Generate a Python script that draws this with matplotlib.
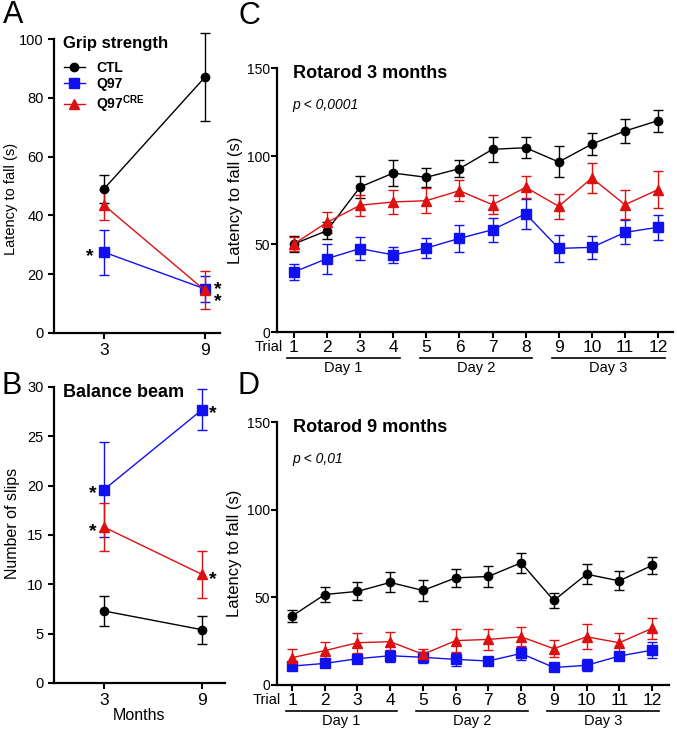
import matplotlib
matplotlib.use('Agg')
import matplotlib.pyplot as plt
import matplotlib.transforms as mtransforms

plt.rcParams['font.family'] = ['Liberation Sans', 'DejaVu Sans']
plt.rcParams['mathtext.fontset'] = 'custom'
plt.rcParams['mathtext.rm'] = 'Liberation Sans'
plt.rcParams['mathtext.bf'] = 'Liberation Sans:bold'

# ---------------- data ----------------
groups = ['CTL', 'Q97', 'Q97$^{\\bf CRE}$']
colors = ['#000000', '#1010f0', '#dd1010']
markers = ['o', 's', '^']

months = [3, 9]
grip_ctl = [49, 87]
grip_ctl_err = [4.8, 15]
grip_q97 = [27.5, 15]
grip_q97_err = [7.7, 4.3]
grip_cre = [43.5, 14.5]
grip_cre_err = [5, 6.5]

beam_ctl = [7.3, 5.4]
beam_ctl_err = [1.55, 1.4]
beam_q97 = [19.6, 27.7]
beam_q97_err = [4.8, 2.1]
beam_cre = [15.8, 11.0]
beam_cre_err = [2.4, 2.4]

trials = list(range(1, 13))
days = ['Day 1', 'Day 2', 'Day 3']
day_trials = [(1, 4), (5, 8), (9, 12)]

rr3_ctl = [50, 57.6, 82.4, 90.3, 87.9, 92.8, 103.8, 104.7, 96.6, 106.8, 114.2, 120.1]
rr3_ctl_err = [4.4, 5, 6.5, 7.3, 5.3, 4.8, 7, 6, 8.8, 6.5, 6.6, 6.2]
rr3_q97 = [34.1, 41.7, 47.4, 43.8, 47.7, 53.2, 58.1, 67.2, 47.5, 48.1, 56.6, 59.5]
rr3_q97_err = [4.5, 8.5, 6.6, 4.5, 5.9, 7.8, 6.8, 8.5, 7.6, 6.6, 6.8, 7.2]
rr3_cre = [50, 62.3, 72, 73.9, 74.6, 80.3, 72.3, 82.2, 71.4, 87.5, 72.3, 80.9]
rr3_cre_err = [3.9, 6, 6, 6.6, 7, 5.8, 5.3, 6.2, 7, 8.3, 8.2, 10.4]

rr9_ctl = [39.3, 51.6, 53.4, 58.5, 53.9, 61.1, 61.9, 69.7, 48.2, 63.2, 59.4, 68.2]
rr9_ctl_err = [3.4, 4.4, 5.1, 5.7, 5.9, 5, 5.9, 5.7, 4.4, 5.7, 5.5, 4.9]
rr9_q97 = [10.8, 12.3, 15, 16.7, 15.8, 14.6, 13.7, 18, 10, 11.2, 16.5, 19.9]
rr9_q97_err = [2.5, 2, 2.5, 3.5, 3, 3.5, 2, 3.5, 1.5, 3.5, 2.5, 4.5]
rr9_cre = [15.6, 19.6, 24.1, 24.7, 17.5, 25.3, 26, 27.5, 20.7, 27.5, 24.1, 32.3]
rr9_cre_err = [4.9, 5.1, 5.7, 5.3, 3, 6.4, 6.1, 5.3, 4.9, 7.2, 5.3, 6.1]

# ---------------- figure ----------------
W, H = 677, 729
fig = plt.figure(figsize=(W / 100, H / 100), dpi=100)


def px_axes(l, r, t, b):
    return fig.add_axes([l / W, 1 - b / H, (r - l) / W, (b - t) / H])


def style(ax):
    for s in ['top', 'right']:
        ax.spines[s].set_visible(False)
    for s in ['left', 'bottom']:
        ax.spines[s].set_linewidth(1.6)
    ax.tick_params(width=1.5, length=4, direction='out')


def series(ax, x, ys, errs, ms=(6, 6.5, 6.5)):
    handles = []
    for y, e, c, m, lab, s in zip(ys, errs, colors, markers, groups, ms):
        cont = ax.errorbar(x, y, yerr=e, color=c, marker=m, markersize=s, lw=1.0,
                           elinewidth=1.0, capsize=3.5, capthick=1.0, label=lab,
                           mec=c, mfc=c)
        for art in cont.get_children():
            art.set_clip_on(False)
        handles.append(cont.lines[0])
    return handles


def star(ax, x, y, dx, dy, txt='*'):
    ax.annotate(txt, (x, y), xytext=(dx, dy), textcoords='offset points',
                ha='center', va='center', fontsize=14, fontweight='bold',
                linespacing=0.6)


# Panel A
axA = px_axes(54, 220, 39, 333)
style(axA)
hA = series(axA, months, [grip_ctl, grip_q97, grip_cre],
            [grip_ctl_err, grip_q97_err, grip_cre_err])
axA.set_xlim(0.03, 9.9)
axA.set_ylim(0, 100)
axA.set_xticks(months)
axA.set_yticks([0, 20, 40, 60, 80, 100])
axA.tick_params(axis='x', labelsize=12.5)
axA.tick_params(axis='y', labelsize=10.5)
axA.set_ylabel('Latency to fall (s)', fontsize=10.5)
axA.yaxis.set_label_coords(-0.215, 0.456)
axA.text(0.054, 0.986, 'Grip strength', transform=axA.transAxes,
         fontsize=12, fontweight='bold', va='center', ha='left')
leg = axA.legend(hA, groups, loc='upper left', bbox_to_anchor=(0.06, 0.925),
                 frameon=False, fontsize=10, handlelength=1.5, handletextpad=0.8,
                 labelspacing=0.15, borderpad=0, borderaxespad=0)
for t in leg.get_texts():
    t.set_fontweight('bold')
star(axA, months[0], grip_q97[0], -10, -3)
star(axA, months[1], (grip_q97[1] + grip_cre[1]) / 2, 9, -4, '*\n*')

# Panel B
axB = px_axes(54, 225, 387, 683)
style(axB)
series(axB, months, [beam_ctl, beam_q97, beam_cre],
       [beam_ctl_err, beam_q97_err, beam_cre_err])
axB.set_xlim(-0.06, 10.4)
axB.set_ylim(0, 30)
axB.set_xticks(months)
axB.set_yticks([0, 5, 10, 15, 20, 25, 30])
axB.tick_params(axis='x', labelsize=12.5)
axB.tick_params(axis='y', labelsize=10.5)
axB.set_ylabel('Number of slips', fontsize=11.5)
axB.yaxis.set_label_coords(-0.2, 0.54)
axB.set_xlabel('Months', fontsize=11.5, labelpad=0)
axB.text(0.054, 0.98, 'Balance beam', transform=axB.transAxes,
         fontsize=13, fontweight='bold', va='center', ha='left')
star(axB, months[0], beam_q97[0], -8, -3)
star(axB, months[0], beam_cre[0], -8, -3)
star(axB, months[1], beam_q97[1], 8, -3)
star(axB, months[1], beam_cre[1], 8, -4)


def rotarod(ax, ys, errs, title, ptext, xlim):
    style(ax)
    series(ax, trials, ys, errs)
    ax.set_xlim(*xlim)
    ax.set_ylim(0, 150)
    ax.set_xticks(trials)
    ax.set_yticks([0, 50, 100, 150])
    ax.tick_params(axis='x', labelsize=12.5, pad=2)
    ax.tick_params(axis='y', labelsize=10, pad=1)
    ax.set_ylabel('Latency to fall (s)', fontsize=12)
    ax.text(0.04, 0.98, title, transform=ax.transAxes, fontsize=13,
            fontweight='bold', va='center', ha='left')
    ax.text(0.04, 0.86, ptext, transform=ax.transAxes, fontsize=10,
            style='italic', va='center', ha='left')
    tr = mtransforms.blended_transform_factory(ax.transData, ax.transAxes)
    ax.text(trials[0] - 0.33, -0.058, 'Trial', transform=tr, fontsize=10.5,
            ha='right', va='center')
    for d, (a, b) in zip(days, day_trials):
        ax.plot([a - 0.2, b + 0.2], [-0.097, -0.097], transform=tr,
                color='black', lw=1.2, clip_on=False)
        ax.text((a + b) / 2, -0.135, d, transform=tr, fontsize=10.5,
                ha='center', va='center')


axC = px_axes(277, 673, 68, 332)
rotarod(axC, [rr3_ctl, rr3_q97, rr3_cre], [rr3_ctl_err, rr3_q97_err, rr3_cre_err],
        'Rotarod 3 months', 'p < 0,0001', (0.49, 12.45))
axC.yaxis.set_label_coords(-0.086, 0.5)

axD = px_axes(277, 669, 422, 685)
rotarod(axD, [rr9_ctl, rr9_q97, rr9_cre], [rr9_ctl_err, rr9_q97_err, rr9_cre_err],
        'Rotarod 9 months', 'p < 0,01', (0.54, 12.52))
axD.yaxis.set_label_coords(-0.089, 0.5)

# panel letters
for lab, x, y in [('A', 3, 15), ('B', 1, 386), ('C', 238, 16), ('D', 238, 386)]:
    fig.text(x / W, 1 - y / H, lab, fontsize=22, ha='left', va='center')

fig.savefig('out.png', dpi=100)
